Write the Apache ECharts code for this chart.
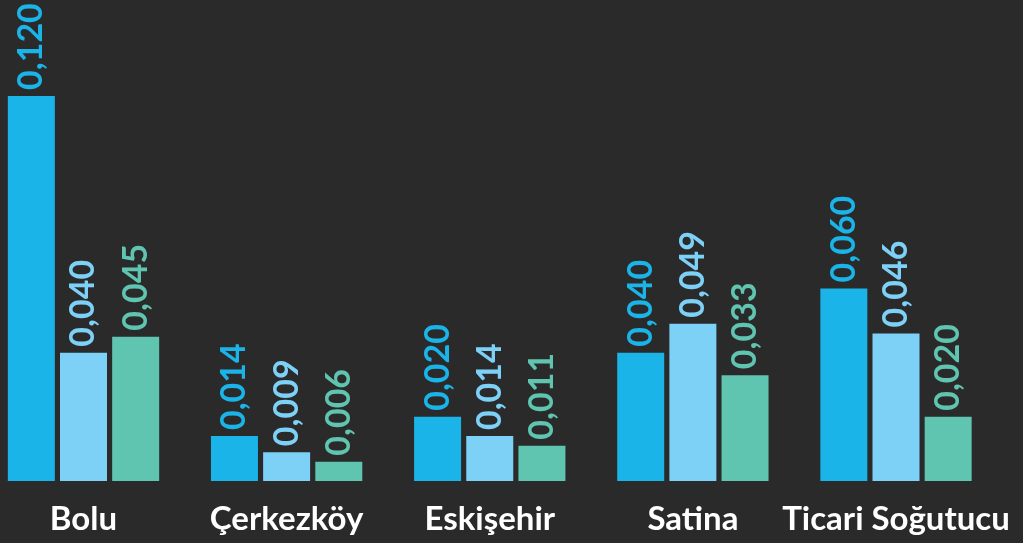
<!DOCTYPE html>
<html>
<head>
<meta charset="utf-8">
<script src="https://cdn.jsdelivr.net/npm/echarts@6/dist/echarts.min.js"></script>
<style>
  html, body { margin: 0; padding: 0; background: #2a2a2a; }
  #chart { width: 1023px; height: 543px; }
</style>
</head>
<body>
<div id="chart"></div>
<script>
// Locations on the x axis
const categories = ['Bolu', 'Çerkezköy', 'Eskişehir', 'Satina', 'Ticari Soğutucu'];

// Three measurement series per location
const seriesA = [0.120, 0.014, 0.020, 0.040, 0.060];
const seriesB = [0.040, 0.009, 0.014, 0.049, 0.046];
const seriesC = [0.045, 0.006, 0.011, 0.033, 0.020];

const colors = ['#1ab4e8', '#7dd0f6', '#5fc4b0'];
const FONT = 'Lato';

function fmt(v) {
  return v.toFixed(3).replace('.', ',');
}

function makeSeries(name, data, color) {
  return {
    name: name,
    type: 'bar',
    data: data,
    barWidth: 47,
    barGap: '11%',
    clip: false,
    itemStyle: { color: color },
    label: {
      show: true,
      position: 'top',
      rotate: 90,
      align: 'left',
      verticalAlign: 'middle',
      distance: 6,
      color: color,
      fontFamily: FONT,
      fontSize: 34,
      fontWeight: 'bold',
      formatter: p => fmt(p.value)
    }
  };
}

const chart = echarts.init(document.getElementById('chart'), null, { renderer: 'canvas' });
chart.setOption({
  backgroundColor: '#2a2a2a',
  animation: false,
  // groups sit on the tick positions so the first group can hug the left edge
  grid: { left: 83.5, right: 127, top: 96, bottom: 62, containLabel: false },
  xAxis: {
    type: 'category',
    data: categories,
    boundaryGap: false,
    axisLine: { show: false },
    axisTick: { show: false },
    axisLabel: {
      color: '#ffffff',
      fontFamily: FONT,
      fontSize: 33,
      fontWeight: 'bold',
      margin: 22,
      interval: 0
    }
  },
  yAxis: {
    type: 'value',
    min: 0,
    max: 0.12,
    show: false,
    splitLine: { show: false }
  },
  series: [
    makeSeries('A', seriesA, colors[0]),
    makeSeries('B', seriesB, colors[1]),
    makeSeries('C', seriesC, colors[2])
  ]
});
</script>
</body>
</html>
